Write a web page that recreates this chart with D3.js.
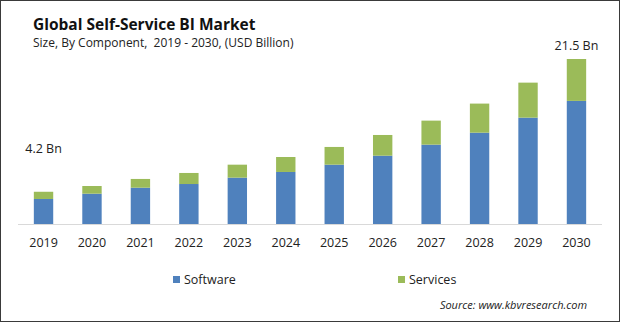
<!DOCTYPE html>
<html>
<head>
<meta charset="utf-8">
<script src="https://cdn.jsdelivr.net/npm/d3@7"></script>
<style>
  body { margin: 0; background: #fff; }
  svg { display: block; }
</style>
</head>
<body>
<div id="chart"></div>
<script>
// Chart data (USD Billion)
const years = ['2019','2020','2021','2022','2023','2024','2025','2026','2027','2028','2029','2030'];
const software = [3.26, 3.95, 4.73, 5.21, 6.04, 6.78, 7.73, 8.9, 10.34, 11.9, 13.86, 16.04];
const services = [0.94, 1.0, 1.14, 1.44, 1.69, 1.95, 2.31, 2.7, 3.13, 3.79, 4.56, 5.46];
const seriesNames = ['Software', 'Services'];
const colors = ['#4f81bd', '#9bbb59'];
const callouts = [{ year: '2019', text: '4.2 Bn' }, { year: '2030', text: '21.5 Bn' }];

const W = 620, H = 322;
const baseY = 224;
const font = "'Open Sans', 'Liberation Sans', sans-serif";

const svg = d3.select('#chart').append('svg')
  .attr('width', W).attr('height', H);

// outer frame
svg.append('rect')
  .attr('x', 0.5).attr('y', 0.5).attr('width', W - 1).attr('height', H - 1)
  .attr('fill', '#fff').attr('stroke', '#3a3a3a').attr('stroke-width', 1);

// titles
svg.append('text').attr('x', 33).attr('y', 30)
  .attr('font-family', font).attr('font-weight', 'bold').attr('font-size', 15.5)
  .attr('fill', '#111').text('Global Self-Service BI Market');
svg.append('text').attr('x', 33).attr('y', 47)
  .attr('font-family', font).attr('font-size', 12)
  .style('white-space', 'pre')
  .attr('fill', '#222').text('Size, By Component,  2019 - 2030, (USD Billion)');

const x = d3.scaleBand().domain(years).range([19.3, 600.7]).paddingInner(0.6).paddingOuter(0.3);
const y = d3.scaleLinear().domain([0, 21.5]).range([baseY, 59]);

const table = years.map((yr, i) => ({ year: yr, Software: software[i], Services: services[i] }));
const stacked = d3.stack().keys(seriesNames)(table);

svg.append('g').selectAll('g')
  .data(stacked)
  .join('g')
  .attr('fill', (d, i) => colors[i])
  .selectAll('rect')
  .data(d => d)
  .join('rect')
  .attr('x', d => x(d.data.year))
  .attr('width', x.bandwidth())
  .attr('y', d => y(d[1]))
  .attr('height', d => y(d[0]) - y(d[1]));

// baseline axis
const axis = svg.append('g').attr('transform', `translate(0,${baseY})`)
  .call(d3.axisBottom(x).tickSize(0).tickPadding(14));
axis.select('.domain').attr('stroke', '#d9d9d9').attr('d', `M18,0.5H602`);
axis.selectAll('text')
  .attr('font-family', font).attr('font-size', 12.5).attr('fill', '#222');

// value callouts
const totals = years.map((yr, i) => software[i] + services[i]);
svg.append('g').selectAll('text')
  .data(callouts)
  .join('text')
  .attr('x', d => x(d.year) + x.bandwidth() / 2)
  .attr('y', d => y(totals[years.indexOf(d.year)]) - (d.year === '2030' ? 9 : 39))
  .attr('text-anchor', 'middle')
  .attr('font-family', font).attr('font-size', 12.5).attr('fill', '#222')
  .text(d => d.text);

// legend
const legendX = [173, 398];
const legend = svg.append('g').selectAll('g')
  .data(seriesNames)
  .join('g')
  .attr('transform', (d, i) => `translate(${legendX[i]},276)`);
legend.append('rect').attr('width', 7).attr('height', 7).attr('fill', (d, i) => colors[i]);
legend.append('text').attr('x', 11).attr('y', 8)
  .attr('font-family', font).attr('font-size', 12.5).attr('fill', '#222')
  .text(d => d);

// source
svg.append('text').attr('x', 587).attr('y', 309).attr('text-anchor', 'end')
  .attr('font-family', font).attr('font-style', 'italic').attr('font-size', 11)
  .attr('fill', '#222').text('Source: www.kbvresearch.com');
</script>
</body>
</html>
